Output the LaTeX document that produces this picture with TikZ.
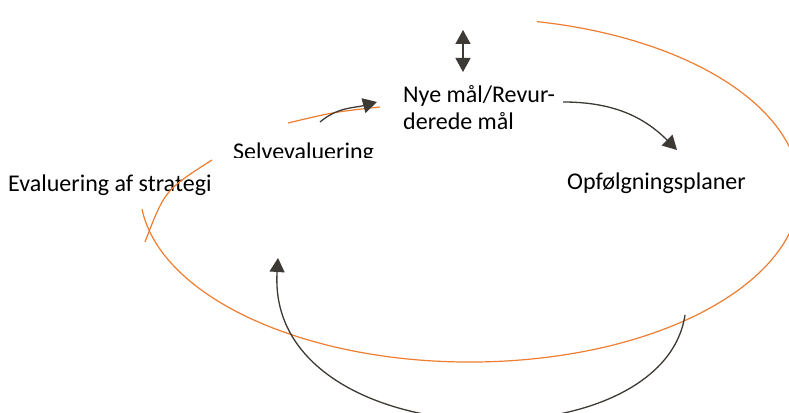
\documentclass[tikz,border=0pt]{standalone}
\usepackage{fontspec}
\setmainfont{Carlito}
\usetikzlibrary{arrows.meta,positioning}
\definecolor{ringorange}{HTML}{ED7D31}
\definecolor{arrdark}{HTML}{3D3935}

\begin{document}
\begin{tikzpicture}[x=1pt,y=1pt,>={Triangle[length=14pt,width=15pt]},
	ring/.style={draw=ringorange,line width=1.2pt},
	flow/.style={draw=arrdark,line width=1.3pt,->},
	txt/.style={inner sep=0pt,anchor=base west,font=\fontsize{24}{27}\selectfont}]
	\useasboundingbox (0,0) rectangle (789,412);
	\clip (0,0) rectangle (789,412);

	\node[txt]				(eval)	at (8,220)		{Evaluering af strategi};
	\begin{scope}
		\clip (220,254) rectangle (390,300);
		\node[txt]			(selv)	at (233,252.5)	{Selvevaluering};
	\end{scope}
	\node[txt,align=left]	(nye)	at (403,282)	{Nye mål/Revur-\\derede mål};
	\node[txt]				(opf)	at (567,222)	{Opfølgningsplaner};

	\coordinate (s1) at (320,290);	\coordinate (s2) at (377,310);
	\coordinate (d1) at (463,382);	\coordinate (d2) at (463,340);
	\coordinate (n1) at (563,310);	\coordinate (n2) at (677,262);
	\coordinate (b1) at (685,97);	\coordinate (b2) at (278,154);

	% orange cycle
	\path[ring] (142,202.8) arc[start angle=186.4,end angle=438.3,x radius=330,y radius=172];
	\path[ring] (212,252) .. controls (165,222) .. (145,170);
	\path[ring] (288,289) .. controls (334,300) .. (380,305);

	\draw[flow]		(s1) to[out=40,in=195] (s2);
	\draw[flow,<->]	(d1) -- (d2);
	\draw[flow]		(n1) to[out=0,in=135] (n2);
	\draw[flow]		(b1) .. controls (662,-55) and (265,-45) .. (b2);
\end{tikzpicture}
\end{document}
